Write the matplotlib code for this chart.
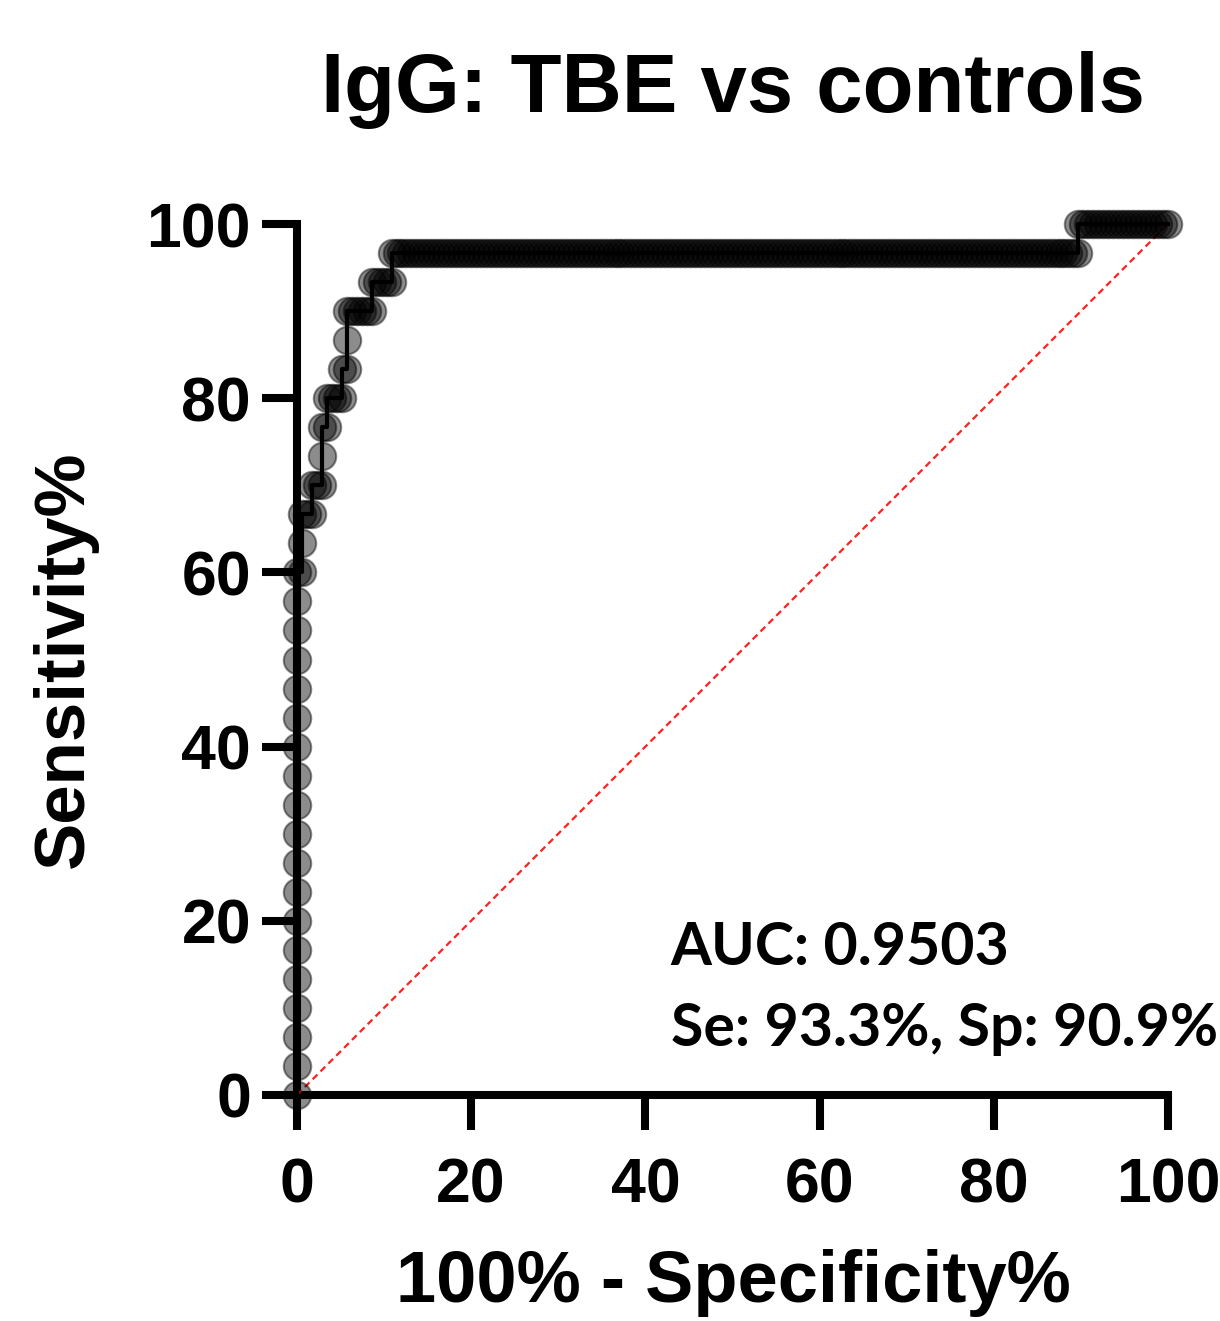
import matplotlib
matplotlib.use("Agg")
import matplotlib.pyplot as plt
import numpy as np

# ROC data: 30 TBE patients, 175 controls
n_tbe = 30
n_controls = 175

# false positives (controls above threshold) for each ROC point
fp_count = [0, 0, 0, 0, 0, 0, 0, 0, 0, 0, 0, 0, 0, 0, 0, 0, 0, 0, 0,
            1, 1, 1, 2, 3, 3, 4, 5, 5, 5, 6, 6, 7, 8, 9, 9, 10, 10, 10,
            11, 12, 13, 14, 15, 15, 16, 17, 18, 19, 19,
            20, 21, 22, 23, 24, 25, 26, 27, 28, 29, 30, 31, 32, 33, 34, 35,
            36, 37, 38, 39, 40, 41, 42, 43, 44, 45, 46, 47, 48, 49, 50, 51,
            52, 53, 54, 55, 56, 57, 58, 59, 60, 61, 62, 63, 64, 65, 66, 67,
            68, 69, 70, 71, 72, 73, 74, 75, 76, 77, 78, 79, 80, 81, 82, 83,
            84, 85, 86, 87, 88, 89, 90, 91, 92, 93, 94, 95, 96, 97, 98, 99,
            100, 101, 102, 103, 104, 105, 106, 107, 108, 109, 110, 111, 112,
            113, 114, 115, 116, 117, 118, 119, 120, 121, 122, 123, 124, 125,
            126, 127, 128, 129, 130, 131, 132, 133, 134, 135, 136, 137, 138,
            139, 140, 141, 142, 143, 144, 145, 146, 147, 148, 149, 150, 151,
            152, 153, 154, 155, 156, 157,
            157, 158, 159, 160, 161, 162, 163, 164, 165, 166, 167, 168, 169,
            170, 171, 172, 173, 174, 175]

# true positives (patients above threshold) for each ROC point
tp_count = ([0, 1, 2, 3, 4, 5, 6, 7, 8, 9, 10, 11, 12, 13, 14, 15, 16, 17, 18,
             18, 19, 20, 20, 20, 21, 21, 21, 22, 23, 23, 24, 24, 24, 24, 25, 25,
             26, 27, 27, 27, 27, 27, 27, 28, 28, 28, 28, 28, 29]
            + [29] * 138
            + [30] * 19)

auc_text = "AUC: 0.9503"
cut_text = "Se: 93.3%, Sp: 90.9%"

x = 100 * np.array(fp_count) / n_controls
y = 100 * np.array(tp_count) / n_tbe

fig = plt.figure(figsize=(12.2, 13.21), dpi=100)
ax = fig.add_axes([0.2434, 0.1711, 0.714, 0.6593])

ax.plot([0, 100], [0, 100], color="#ff2020", lw=1.6, ls=(0, (3, 2)), zorder=1)
ax.scatter(x, y, s=390, color="black", alpha=0.45, lw=1.5, zorder=2, clip_on=False)
ax.plot(x, y, color="black", lw=3.0, zorder=3, clip_on=False)

ax.set_xlim(0, 100)
ax.set_ylim(0, 100)
ax.set_xticks([0, 20, 40, 60, 80, 100])
ax.set_yticks([0, 20, 40, 60, 80, 100])

for s in ["top", "right"]:
    ax.spines[s].set_visible(False)
for s in ["left", "bottom"]:
    ax.spines[s].set_linewidth(5.8)
    ax.spines[s].set_zorder(0)

font = "Liberation Sans"
ax.tick_params(axis="both", direction="out", length=25, width=5.8, labelsize=45)
ax.tick_params(axis="y", pad=8)
ax.tick_params(axis="x", pad=19)
for lab in ax.get_xticklabels() + ax.get_yticklabels():
    lab.set_fontfamily(font)
    lab.set_fontweight("bold")

fig.text(0.601, 1 - 1302 / 1321, "100% - Specificity%", fontsize=52,
         fontweight="bold", fontfamily=font, ha="center", va="baseline")
ax.set_ylabel("Sensitivity%", fontsize=51, fontweight="bold", fontfamily=font)
ax.yaxis.set_label_coords(-0.228, 0.5)
fig.text(0.601, 1 - 112 / 1321, "IgG: TBE vs controls", fontsize=60,
         fontweight="bold", fontfamily=font, ha="center", va="baseline")

ax.text(0.429, 0.149, auc_text, transform=ax.transAxes, fontsize=42.5,
        fontweight="bold", fontfamily="Lato", ha="left", va="baseline")
ax.text(0.429, 0.056, cut_text, transform=ax.transAxes, fontsize=42.5,
        fontweight="bold", fontfamily="Lato", ha="left", va="baseline",
        clip_on=False)

fig.savefig("out.png", dpi=100)
